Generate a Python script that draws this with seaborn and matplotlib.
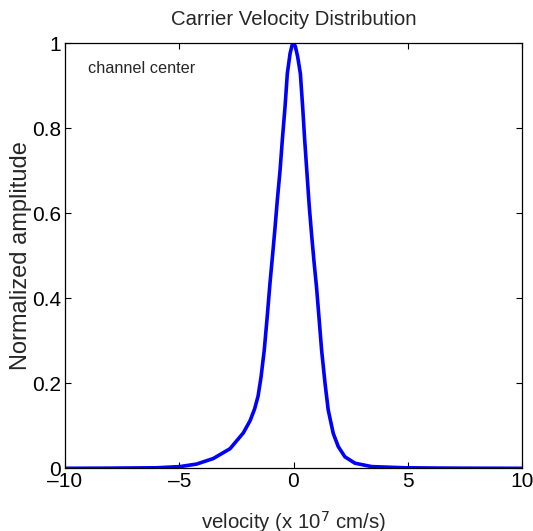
import matplotlib
matplotlib.use("Agg")
import matplotlib.pyplot as plt
import seaborn as sns
import pandas as pd

# Data
velocity = [-10, -8, -6, -4.97, -4.24, -3.51, -2.78, -2.20, -1.90, -1.70, -1.55,
            -1.42, -1.28, -1.15, -1.03, -0.91, -0.81, -0.71, -0.59, -0.49, -0.37,
            -0.27, -0.15, -0.06, 0.0, 0.08, 0.18, 0.30, 0.40, 0.49, 0.59, 0.69,
            0.80, 0.90, 1.01, 1.12, 1.23, 1.38, 1.52, 1.74, 1.96, 2.25, 2.69,
            3.42, 4.88, 6.5, 8, 10]
amplitude = [0.0, 0.0004, 0.0012, 0.004, 0.010, 0.023, 0.046, 0.083, 0.112,
             0.140, 0.170, 0.215, 0.278, 0.357, 0.435, 0.505, 0.565, 0.630,
             0.700, 0.772, 0.851, 0.929, 0.976, 0.996, 1.0, 0.993, 0.969, 0.929,
             0.851, 0.772, 0.694, 0.616, 0.545, 0.485, 0.425, 0.352, 0.278,
             0.200, 0.137, 0.082, 0.051, 0.027, 0.012, 0.004, 0.0012, 0.0005,
             0.0002, 0.0]
xticks = [-10, -5, 0, 5, 10]
xticklabels = ["\u201310", "\u20135", "0", "5", "10"]
yticks = [0, 0.2, 0.4, 0.6, 0.8, 1]
yticklabels = ["0", "0.2", "0.4", "0.6", "0.8", "1"]

df = pd.DataFrame({"velocity": velocity, "amplitude": amplitude})

sns.set_style("ticks")
plt.rcParams["font.family"] = ["Liberation Sans", "DejaVu Sans"]

fig = plt.figure(figsize=(5.33, 5.31), dpi=100)
ax = fig.add_axes([65 / 533, 1 - 468.3 / 531, (522 - 65) / 533, (468.3 - 43.3) / 531])

sns.lineplot(data=df, x="velocity", y="amplitude", ax=ax, color="#0000ff",
             linewidth=2.6, sort=False)
ax.lines[0].set_solid_joinstyle("round")
ax.lines[0].set_solid_capstyle("round")

ax.set_xlim(-10, 10)
ax.set_ylim(0, 1)
ax.set_xticks(xticks)
ax.set_xticklabels(xticklabels)
ax.set_yticks(yticks)
ax.set_yticklabels(yticklabels)
ax.tick_params(direction="in", length=4, width=0.8, top=True, right=True,
               labelsize=15, pad=3, colors="black")
for s in ax.spines.values():
    s.set_visible(True)
    s.set_linewidth(0.9)
    s.set_color("black")

ax.set_title("Carrier Velocity Distribution", fontsize=14.7, pad=13.5)
ax.set_xlabel("velocity (x 10$^7$ cm/s)", fontsize=14.7, labelpad=13)
ax.set_ylabel("Normalized amplitude", fontsize=17, labelpad=0)
ax.text(-9.0, 0.93, "channel center", fontsize=11.7, ha="left", va="baseline")

fig.savefig("out.png", dpi=100)
